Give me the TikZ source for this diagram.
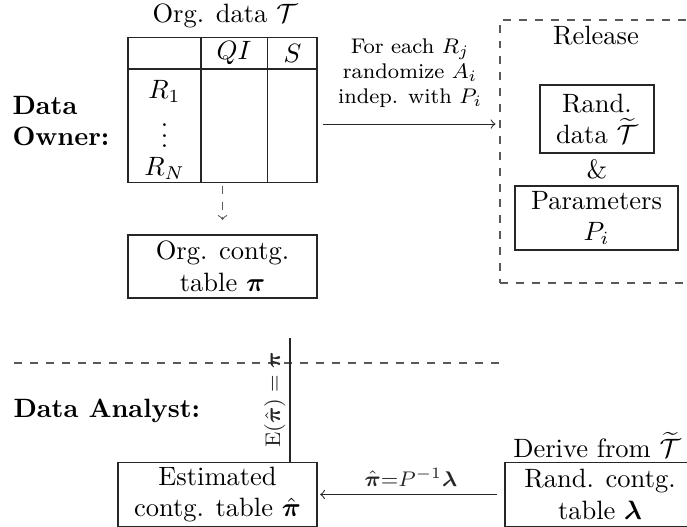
\documentclass[tikz,border=0pt]{standalone}
\usepackage{amsmath,amssymb,bm}
\begin{document}
\begin{tikzpicture}[x=0.3774pt,y=-0.3774pt,
  box/.style={draw=black!85,inner sep=0pt,align=center},
  lbl/.style={inner sep=0pt},
  dsh/.style={draw=black!65,dashed},
  >=to]
\useasboundingbox (0,0) rectangle (687,526);
% owner part
\node[lbl] (title) at (225,16) {Org. data $\mathcal{T}$};
\node[draw=black!85,inner sep=0pt,minimum width=71.33pt,minimum height=54.72pt] (tbl) at (222.5,110) {};
\draw[black!85] (128,69) -- (317,69);
\draw[black!85] (201,37.5) -- (201,182.5);
\draw[black!85] (267.5,37.5) -- (267.5,182.5);
\node[lbl] (qi) at (234,53) {$QI$};
\node[lbl] (s) at (292.5,53) {$S$};
\node[lbl] (r1) at (164.5,91) {$R_1$};
\node[lbl] (vd) at (164.5,128) {$\vdots$};
\node[lbl] (rn) at (164.5,168) {$R_N$};
\node[anchor=west,align=left,font=\bfseries,inner sep=0pt] (owner) at (12,121) {Data\\Owner:};
\node[box,minimum width=71.33pt,minimum height=23.78pt] (orgc) at (222.5,266.5) {Org. contg.\\table $\boldsymbol{\pi}$};
\draw[->,dsh,shorten >=5.5pt,shorten <=1pt] (tbl.south) -- (orgc.north);
% release
\node[dsh,inner sep=0pt,minimum width=75.5pt,minimum height=99.26pt] (release) at (600,151.5) {};
\node[lbl] (reltxt) at (596,36) {Release};
\node[box,minimum width=43.02pt,minimum height=25.66pt] (rdata) at (597,119) {Rand.\\data $\widetilde{\mathcal{T}}$};
\node[lbl] (amp) at (597,169) {\&};
\node[box,minimum width=61.52pt,minimum height=24.15pt] (params) at (596.5,218) {Parameters\\$P_i$};
\coordinate (aS) at ([yshift=-5.3pt]tbl.east);
\draw[->,black!85,shorten <=2pt,shorten >=1.5pt] (aS) -- (release.west |- aS);
\node[align=center,font=\footnotesize,inner sep=0pt] (lbl1) at (410,73) {For each $R_j$\\randomize $A_i$\\indep. with $P_i$};
% separator
\coordinate (sepL) at (14,363);
\coordinate (sepR) at (500,363);
\draw[dsh] (sepL) -- (sepR);
% analyst part
\node[anchor=west,font=\bfseries,inner sep=0pt] (analyst) at (13,411) {Data Analyst:};
\node[box,minimum width=75.10pt,minimum height=24.15pt] (est) at (217.5,494.5) {Estimated\\contg. table $\hat{\boldsymbol{\pi}}$};
\node[box,minimum width=71.7pt,minimum height=24.15pt] (rc) at (600,494.5) {Rand. contg.\\table $\boldsymbol{\lambda}$};
\node[lbl] (derive) at (597,445) {Derive from $\widetilde{\mathcal{T}}$};
\coordinate (vtop) at (290,338);
\draw[black!85] (est.north -| vtop) -- (vtop) node[midway,rotate=90,above,font=\footnotesize,inner sep=1.5pt] {$\mathrm{E}(\hat{\boldsymbol{\pi}}) = \boldsymbol{\pi}$};
\draw[->,black!85,shorten <=3pt,shorten >=1pt] (rc.west) -- (est.east) node[midway,above,font=\footnotesize,inner sep=3pt] {$\hat{\boldsymbol{\pi}}{=}P^{-1}\boldsymbol{\lambda}$};
\end{tikzpicture}
\end{document}
